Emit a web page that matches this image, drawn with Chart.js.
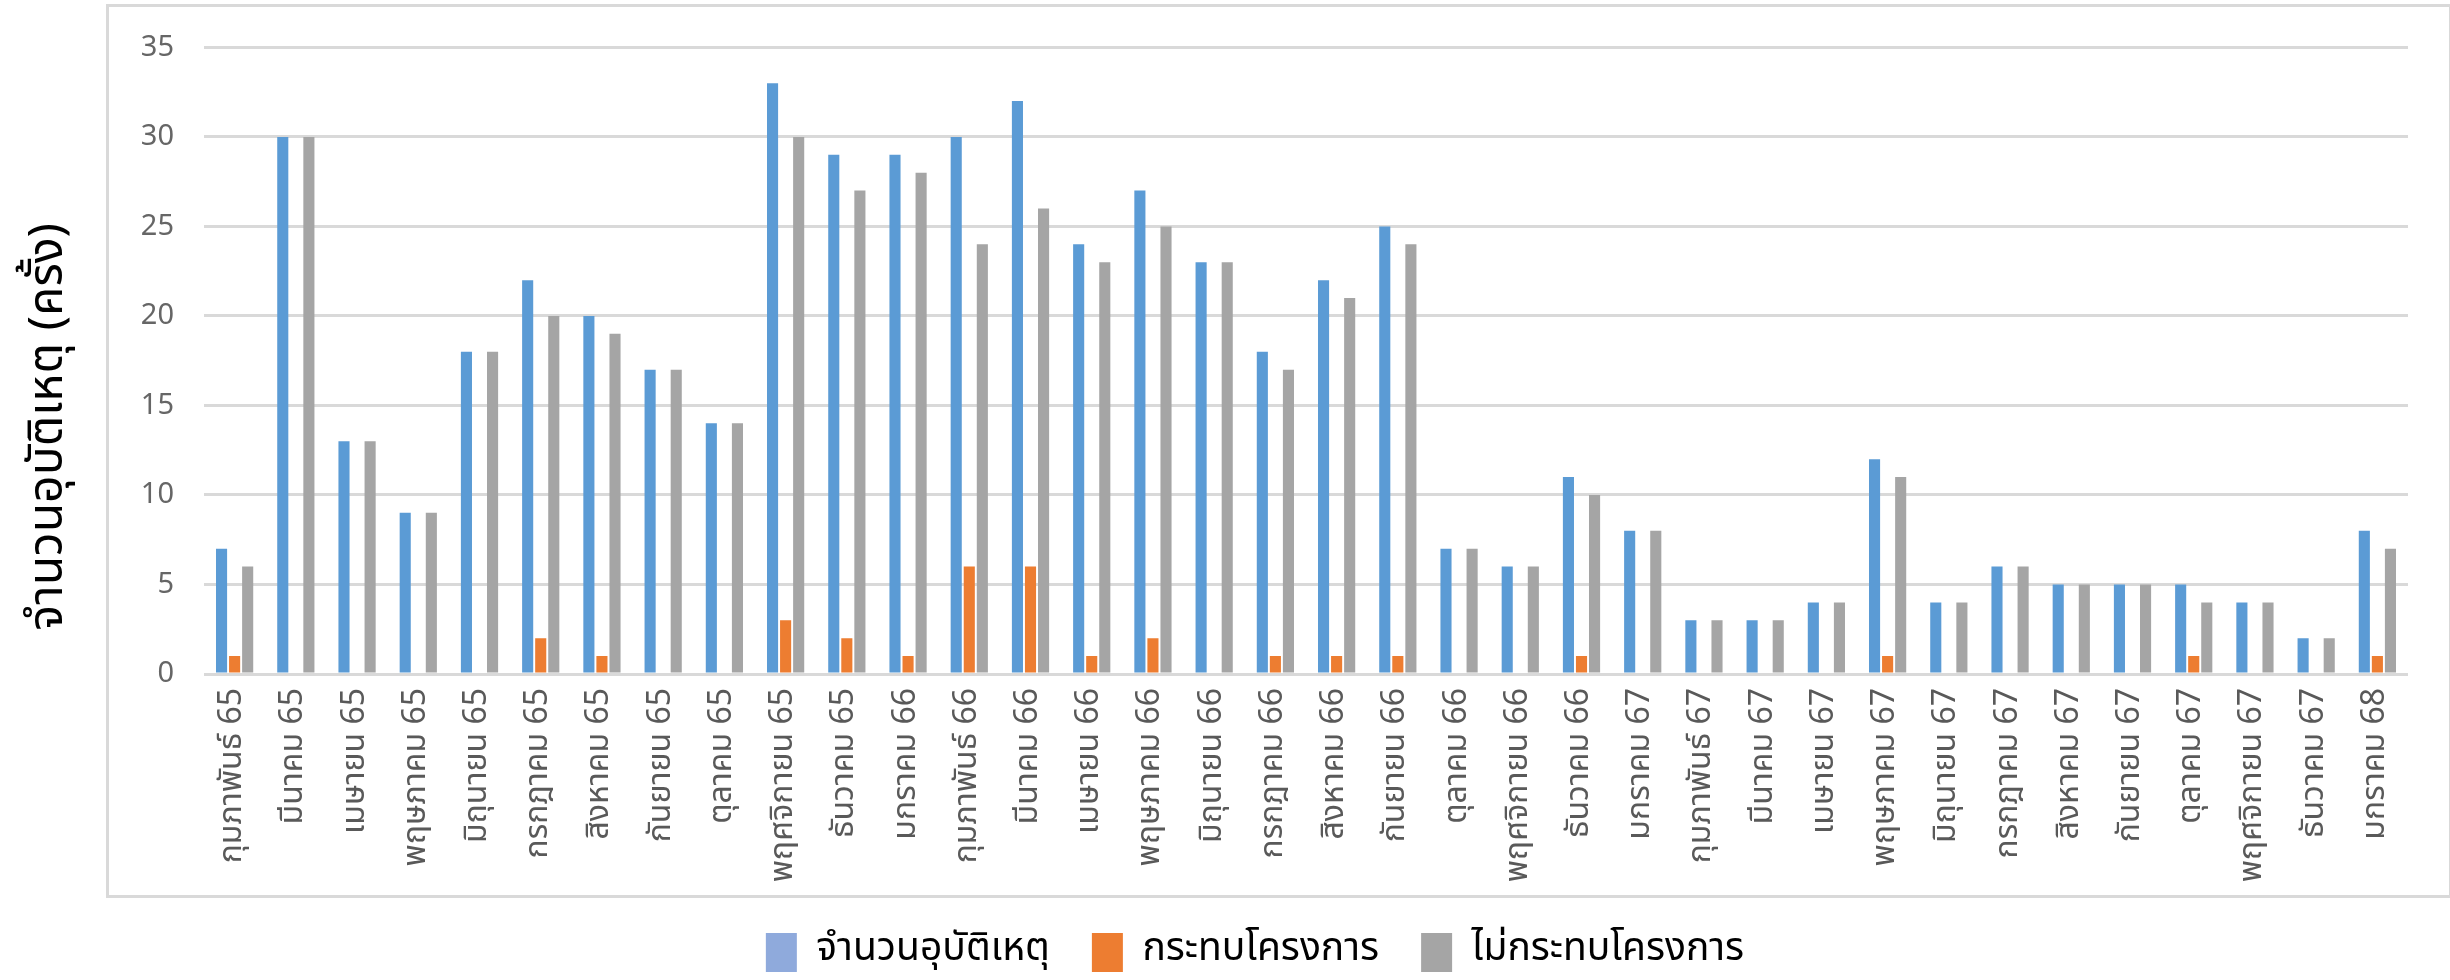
<!DOCTYPE html>
<html>
<head>
<meta charset="utf-8">
<script src="https://cdn.jsdelivr.net/npm/chart.js@4.4.1/dist/chart.umd.min.js"></script>
<style>
    body { margin: 0; background: #ffffff; }
    #wrap { position: relative; width: 2450px; height: 980px; }
    #frame { position: absolute; left: 106px; top: 4px; width: 2340px; height: 888px; border: 3px solid #d9d9d9; pointer-events: none; }
</style>
</head>
<body>
<div id="wrap">
    <canvas id="accident-chart" width="2450" height="980"></canvas>
    <div id="frame"></div>
</div>
<script>
// Months (Thai, Buddhist year short form)
const monthLabels = [
    'กุมภาพันธ์ 65', 'มีนาคม 65', 'เมษายน 65', 'พฤษภาคม 65', 'มิถุนายน 65', 'กรกฎาคม 65',
    'สิงหาคม 65', 'กันยายน 65', 'ตุลาคม 65', 'พฤศจิกายน 65', 'ธันวาคม 65', 'มกราคม 66',
    'กุมภาพันธ์ 66', 'มีนาคม 66', 'เมษายน 66', 'พฤษภาคม 66', 'มิถุนายน 66', 'กรกฎาคม 66',
    'สิงหาคม 66', 'กันยายน 66', 'ตุลาคม 66', 'พฤศจิกายน 66', 'ธันวาคม 66', 'มกราคม 67',
    'กุมภาพันธ์ 67', 'มีนาคม 67', 'เมษายน 67', 'พฤษภาคม 67', 'มิถุนายน 67', 'กรกฎาคม 67',
    'สิงหาคม 67', 'กันยายน 67', 'ตุลาคม 67', 'พฤศจิกายน 67', 'ธันวาคม 67', 'มกราคม 68'
];

// Series values
const totalAccidents = [7, 30, 13, 9, 18, 22, 20, 17, 14, 33, 29, 29, 30, 32, 24, 27, 23, 18, 22, 25, 7, 6, 11, 8, 3, 3, 4, 12, 4, 6, 5, 5, 5, 4, 2, 8];
const affectsProject = [1, 0, 0, 0, 0, 2, 1, 0, 0, 3, 2, 1, 6, 6, 1, 2, 0, 1, 1, 1, 0, 0, 1, 0, 0, 0, 0, 1, 0, 0, 0, 0, 1, 0, 0, 1];
const notAffectsProject = [6, 30, 13, 9, 18, 20, 19, 17, 14, 30, 27, 28, 24, 26, 23, 25, 23, 17, 21, 24, 7, 6, 10, 8, 3, 3, 4, 11, 4, 6, 5, 5, 4, 4, 2, 7];

const seriesNames = ['จำนวนอุบัติเหตุ', 'กระทบโครงการ', 'ไม่กระทบโครงการ'];
const seriesColors = ['#5B9BD5', '#ED7D31', '#A5A5A5'];
const yAxisTitle = 'จำนวนอุบัติเหตุ (ครั้ง)';

// Y axis range
const yMax = 35;
const yStep = 5;

const thaiFont = "Tahoma, 'Leelawadee UI', 'Noto Sans Thai', 'Noto Sans', sans-serif";

// Fix the legend block height and nudge it right so it sits under the frame like the original
const legendFitPlugin = {
    id: 'legendFit',
    afterInit(chart) {
        const fit = chart.legend.fit;
        chart.legend.fit = function () {
            fit.call(this);
            this.height = 89;
        };
        const draw = chart.legend.draw;
        chart.legend.draw = function () {
            this.ctx.save();
            this.ctx.translate(36, 0);
            draw.apply(this, arguments);
            this.ctx.restore();
        };
    }
};

// Y axis title, drawn a bit below the middle of the plot like in the original
const yTitlePlugin = {
    id: 'yTitle',
    afterDraw(chart) {
        const { ctx, chartArea } = chart;
        ctx.save();
        ctx.translate(52, (chartArea.top + chartArea.bottom) / 2 + 66);
        ctx.rotate(-Math.PI / 2);
        ctx.textAlign = 'center';
        ctx.textBaseline = 'middle';
        ctx.font = '48px ' + thaiFont;
        ctx.fillStyle = '#000000';
        ctx.fillText(yAxisTitle, 0, 0);
        ctx.restore();
    }
};

const ctx = document.getElementById('accident-chart').getContext('2d');
new Chart(ctx, {
    type: 'bar',
    data: {
        labels: monthLabels,
        datasets: [
            { label: seriesNames[0], data: totalAccidents, backgroundColor: seriesColors[0] },
            { label: seriesNames[1], data: affectsProject, backgroundColor: seriesColors[1] },
            { label: seriesNames[2], data: notAffectsProject, backgroundColor: seriesColors[2] }
        ]
    },
    options: {
        responsive: false,
        devicePixelRatio: 1,
        animation: false,
        categoryPercentage: 0.64,
        barPercentage: 0.85,
        layout: {
            padding: { left: 30, right: 42, top: 42, bottom: 0 }
        },
        scales: {
            x: {
                grid: { display: false },
                border: { display: false },
                ticks: {
                    autoSkip: false,
                    minRotation: 90,
                    maxRotation: 90,
                    padding: 6,
                    color: '#595959',
                    font: { family: thaiFont, size: 32 }
                },
                afterFit: function (scale) {
                    scale.height = 217;
                }
            },
            y: {
                min: 0,
                max: yMax,
                ticks: {
                    stepSize: yStep,
                    padding: 30,
                    color: '#666666',
                    font: { family: "'Noto Sans', 'Open Sans', sans-serif", size: 29 }
                },
                grid: {
                    color: '#d9d9d9',
                    lineWidth: 3,
                    drawTicks: false
                },
                border: { display: false },
                afterFit: function (scale) {
                    scale.width = 174;
                }
            }
        },
        plugins: {
            tooltip: { enabled: false },
            legend: {
                position: 'bottom',
                labels: {
                    boxWidth: 31,
                    boxHeight: 39,
                    padding: 42,
                    color: '#000000',
                    font: { family: thaiFont, size: 39 },
                    generateLabels: function (chart) {
                        const items = Chart.defaults.plugins.legend.labels.generateLabels(chart);
                        // legend swatch of the first series is lighter in the original
                        items[0].fillStyle = '#8FAADC';
                        items.forEach(item => { item.lineWidth = 0; });
                        return items;
                    }
                }
            }
        }
    },
    plugins: [legendFitPlugin, yTitlePlugin]
});
</script>
</body>
</html>
